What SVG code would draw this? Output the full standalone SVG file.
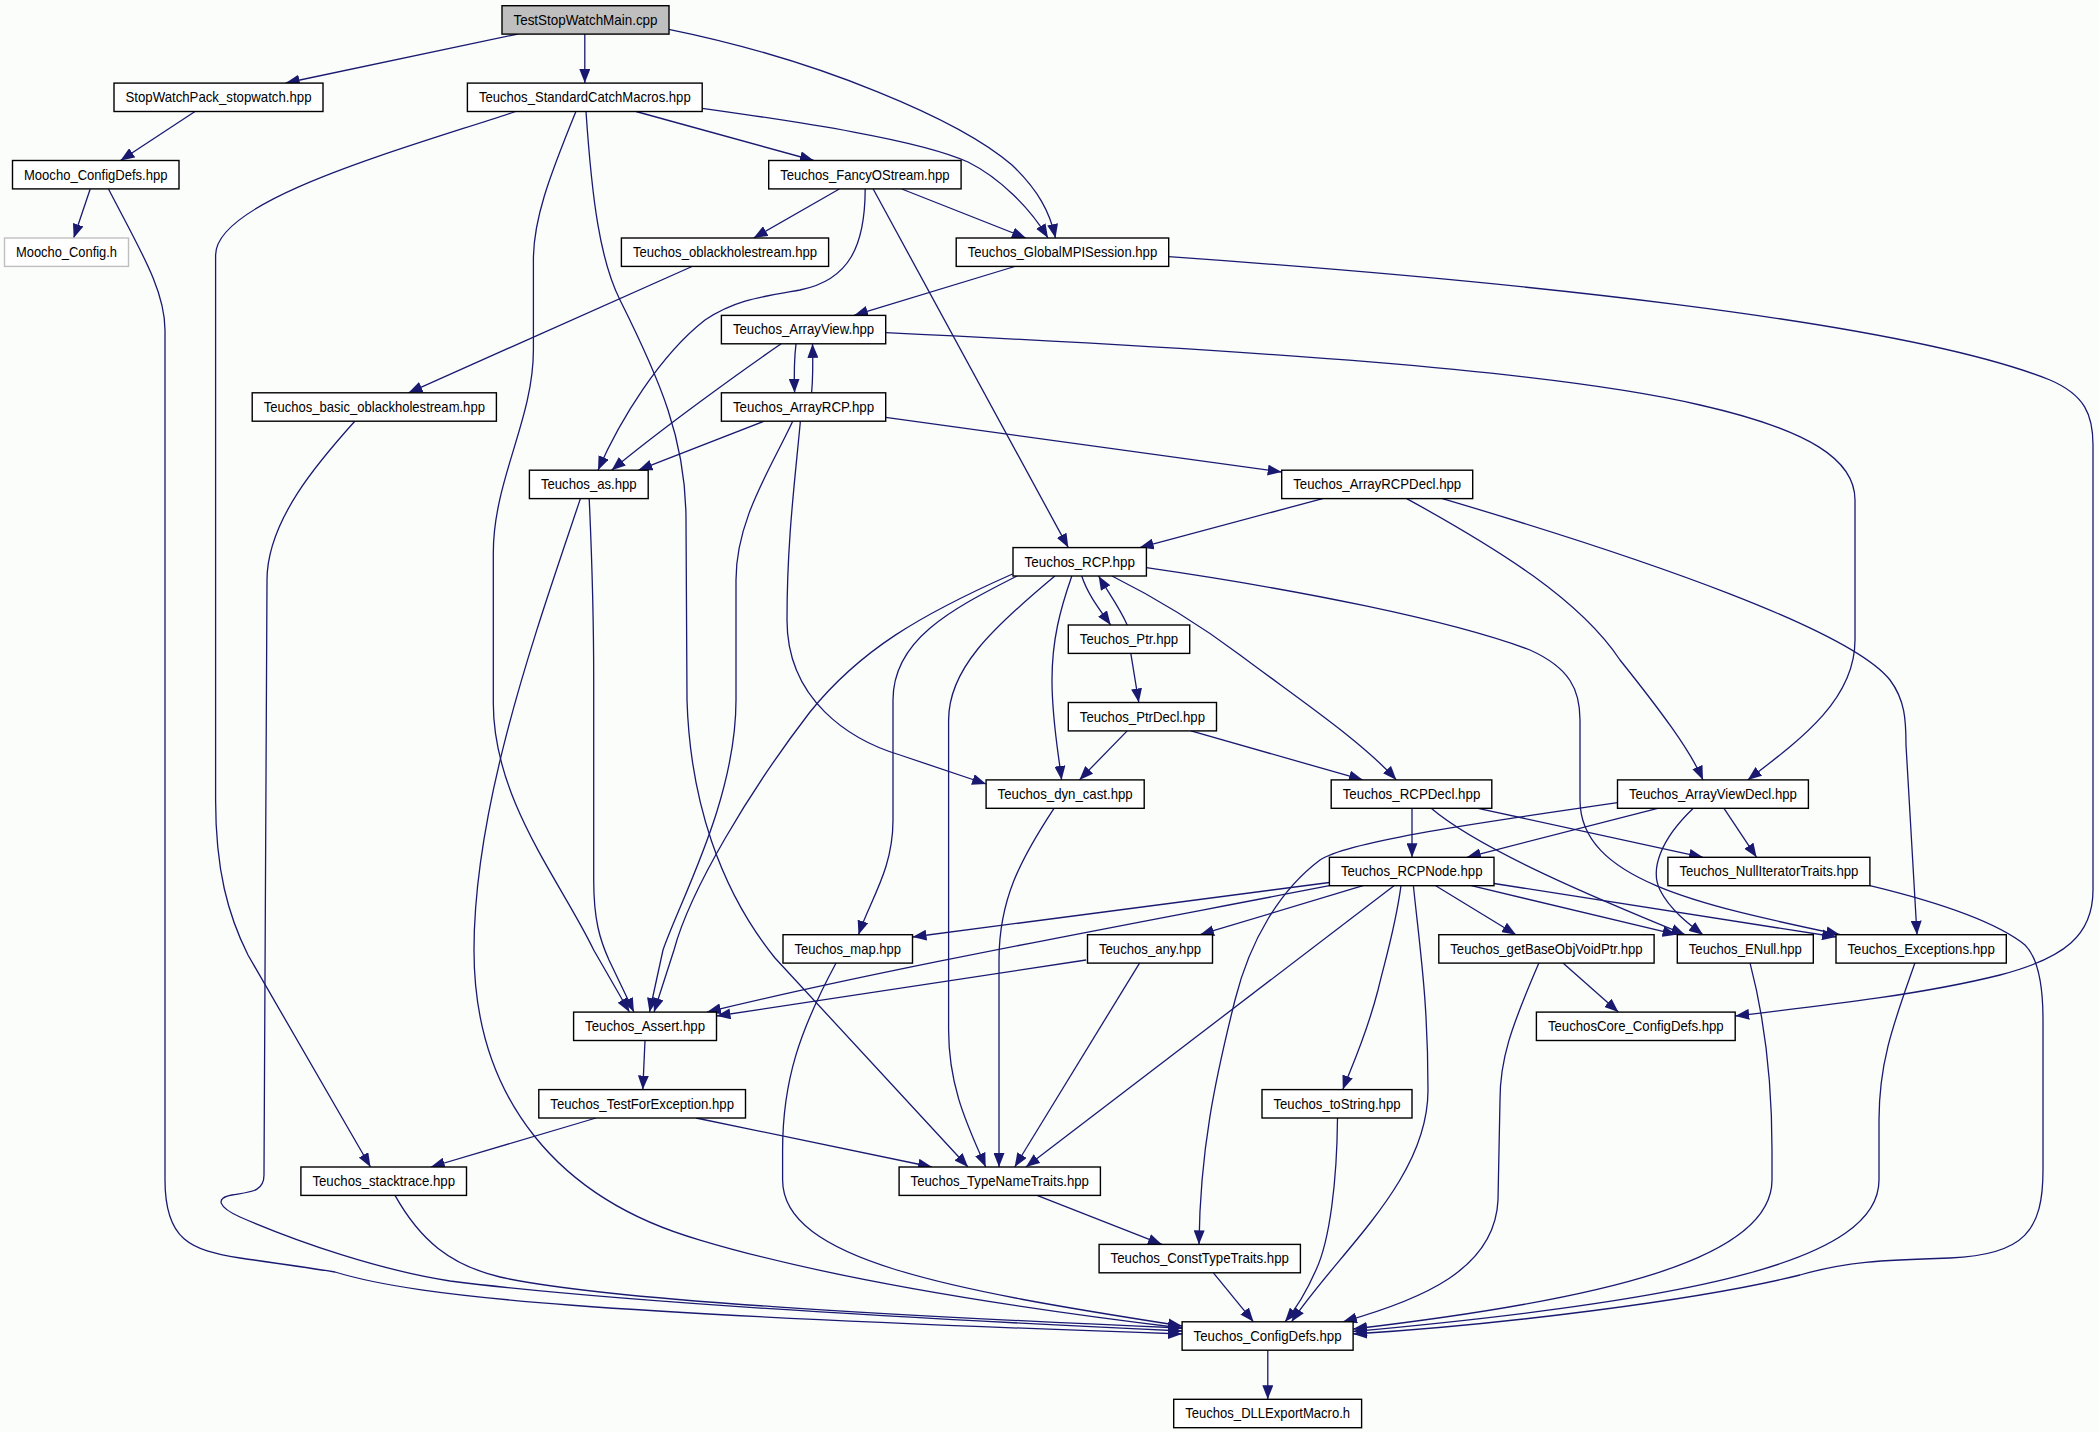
<svg xmlns="http://www.w3.org/2000/svg" width="2099" height="1432" viewBox="0 0 2099 1432">
<defs>
<style>
.n rect{fill:#ffffff;stroke:#000000;stroke-width:1.4}
.n text{font-family:"Liberation Sans",Arial,Helvetica,sans-serif;font-size:15px;fill:#000000;text-anchor:middle}
#edges path{fill:none;stroke:#191970;stroke-width:1.3;marker-end:url(#ah)}
</style>
<marker id="ah" markerUnits="userSpaceOnUse" markerWidth="14" markerHeight="11" refX="14" refY="5.5" orient="auto">
<path d="M0,0 L14,5.5 L0,11 z" fill="#191970"/>
</marker>
</defs>
<rect x="0" y="0" width="2099" height="1432" fill="#fbfdfb"/>
<g id="edges">
<path d="M517.8,34 L285.7,83"/>
<path d="M584.8,34 L584.8,83"/>
<path d="M668.7,29.3 C820,60 960,120 1012,165 C1038,190 1050,212 1055.5,238"/>
<path d="M195,111.5 L120.5,160.5"/>
<path d="M636,111.5 L813.8,160.5"/>
<path d="M702.2,108.3 C800,122 920,140 968,162 C1000,178 1030,208 1048,238"/>
<path d="M515.6,111.5 C400,150 215.6,200 215.6,255 L215.6,800 C215.6,870 228,915 248,955 L370.5,1167"/>
<path d="M575.9,111.5 C548,180 533.4,220 533.4,260 L533.4,350 C533.4,420 493.3,480 493.3,553 L493.3,703 C493.3,800 560,880 593.7,950 L629.4,1012"/>
<path d="M586,111.5 C592,200 600,260 620,300 C660,380 686,440 686,520 L687,700 C690,800 720,890 775,958 L968,1167"/>
<path d="M90.2,189 L73.7,238"/>
<path d="M108.5,189 C140,250 165,290 165,330 L165,1180 C165,1240 190,1250 240,1258 C290,1265 310,1268 335,1272 C420,1298 600,1314 1182.1,1334"/>
<path d="M839.3,189 L753.6,238"/>
<path d="M901.8,189 L1025.9,238"/>
<path d="M865.2,189 C865,245 850,280 800,290 C760,297 735,300 705,320 C660,355 620,420 598,470.2"/>
<path d="M873.2,189 L1068.3,547.6"/>
<path d="M692,266.5 L408.5,392.8"/>
<path d="M1014.7,266.5 L854,315.4"/>
<path d="M1168.7,256.7 C1500,280 1900,320 2050,380 C2085,395 2093,415 2093,445 L2093,890 C2093,935 2065,958 2000,975 C1920,995 1820,1006 1735.2,1016"/>
<path d="M796,343.8 C794,360 794,375 794.6,392.8"/>
<path d="M811.6,392.8 C813,378 813,362 812.5,343.8"/>
<path d="M781.2,343.8 C740,372 660,430 611.6,470.2"/>
<path d="M885.7,332.7 C1250,350 1550,370 1700,405 C1810,430 1855,460 1855,500 L1855,640 C1855,700 1800,740 1747.7,779.9"/>
<path d="M764.7,421 L638.4,470.2"/>
<path d="M792.8,421 C770,470 736,520 736,580 L736,700 C736,800 680,900 663,950 L649.5,1012"/>
<path d="M800.4,421 C795,480 787,540 787,620 C787,700 850,740 900,755 C930,765 960,775 986.1,784"/>
<path d="M885.7,417.3 L1281.7,472"/>
<path d="M589.2,498.6 C592,560 593.7,600 593.7,680 L593.7,880 C593.7,920 600,940 609,960 L633.9,1012"/>
<path d="M580.4,498.6 C540,620 474,800 474,950 C474,1100 560,1200 700,1240 C800,1270 950,1300 1182.1,1328"/>
<path d="M355,421 C320,460 267,520 267,580 L264,1175 C264,1192 250,1192 232,1195 C215,1198 218,1207 240,1217 C300,1243 380,1270 450,1281 C600,1300 900,1318 1182.1,1331"/>
<path d="M1322.7,498.6 L1139.7,547.6"/>
<path d="M1406.7,498.6 C1500,550 1580,600 1620,660 C1660,710 1690,750 1703,779.9"/>
<path d="M1442.4,498.6 C1650,560 1850,630 1890,680 C1905,700 1906,720 1906,745 L1917,934.7"/>
<path d="M1081.7,576 C1088,595 1100,610 1110.7,625"/>
<path d="M1127.2,625 C1120,608 1108,592 1098.6,576"/>
<path d="M1071.8,576 C1060,610 1052,640 1052,680 C1052,720 1058,750 1061.6,779.9"/>
<path d="M1112,576 C1160,600 1200,625 1240,655 C1300,700 1360,740 1396.4,779.9"/>
<path d="M1012.5,574 C920,615 860,650 810,712 C750,790 690,890 674,950 L654,1012"/>
<path d="M1017,576 C950,610 893,640 893,700 L893,820 C893,870 870,900 858.5,934.7"/>
<path d="M1054.9,576 C990,630 948.6,670 948.6,720 L948.6,1030 C948.6,1090 970,1130 985.7,1167"/>
<path d="M1146.4,567.7 C1300,590 1450,620 1530,650 C1570,668 1580,690 1580,720 L1580,800 C1580,880 1700,905 1840,934.7"/>
<path d="M1130.8,653.4 L1138.8,702.5"/>
<path d="M1127.2,730.9 L1079.4,779.9"/>
<path d="M1191,730.9 L1362.9,779.9"/>
<path d="M1054,808.3 C1020,860 999,900 999,960 L999,1167"/>
<path d="M1412,808.3 L1412,857.3"/>
<path d="M1478,808.3 L1703,857.3"/>
<path d="M1431.2,808.3 C1480,850 1600,900 1685,934.7"/>
<path d="M1657.7,808.3 L1466.9,857.3"/>
<path d="M1724,808.3 L1756.6,857.3"/>
<path d="M1693.3,808.3 C1660,840 1650,870 1660,890 C1670,910 1690,925 1703,934.7"/>
<path d="M1617.5,802.7 C1500,820 1350,840 1320,860 C1280,890 1250,940 1235,1000 C1215,1080 1200,1150 1199,1244.4"/>
<path d="M1329.4,882.5 L912.5,937"/>
<path d="M1329.4,885.7 C1100,930 880,970 707,1012.1"/>
<path d="M1363,885.7 L1200,934.7"/>
<path d="M1435.7,885.7 L1516,934.7"/>
<path d="M1471.3,885.7 L1676.5,934.7"/>
<path d="M1494,883.5 L1836,937"/>
<path d="M1394,885.7 L1025.9,1167"/>
<path d="M1401,885.7 C1395,930 1385,960 1378,990 C1365,1040 1350,1070 1342.8,1089.6"/>
<path d="M1413.4,885.7 C1420,950 1428,1000 1428,1090 C1428,1180 1340,1250 1291.5,1321.8"/>
<path d="M1869.9,885.7 C1950,905 2000,925 2025,945 C2040,960 2043,990 2043,1020 L2043,1170 C2043,1230 2025,1255 1950,1258 C1880,1260 1845,1262 1800,1275 C1700,1300 1500,1325 1353.1,1334"/>
<path d="M836.2,962.8 C800,1030 782.6,1080 782.6,1150 L782.6,1180 C782.6,1260 950,1290 1182.1,1326"/>
<path d="M1086.1,960 L716.5,1016"/>
<path d="M1139.7,962.8 L1014.7,1167"/>
<path d="M1562.7,962.8 L1618.4,1012.1"/>
<path d="M1539,962.8 C1510,1030 1500,1060 1500,1100 L1498,1200 C1495,1270 1420,1300 1343,1321.8"/>
<path d="M1750,962.8 C1765,1020 1772,1080 1772,1150 L1772,1180 C1772,1260 1600,1300 1353.1,1329"/>
<path d="M1915,962.8 C1895,1020 1879,1060 1879,1120 L1879,1180 C1879,1260 1700,1300 1353.1,1331.5"/>
<path d="M645,1040.5 L642.8,1089.6"/>
<path d="M596,1118 L430.8,1167"/>
<path d="M696,1118 L932,1167"/>
<path d="M1337.5,1118 C1337,1180 1330,1240 1316,1270 C1305,1295 1295,1310 1285,1321.8"/>
<path d="M395,1195.4 C420,1240 450,1265 500,1277 C600,1300 900,1316 1182.1,1328"/>
<path d="M1037,1195.4 L1162,1244.4"/>
<path d="M1213.4,1272.8 L1253.5,1321.8"/>
<path d="M1267.8,1350.2 L1267.8,1399.3"/>
</g>
<g id="n1" class="n"><rect x="502" y="5.7" width="167" height="28.4" style="fill:#bfbfbf"/><text x="585.5" y="24.7" textLength="144" lengthAdjust="spacingAndGlyphs">TestStopWatchMain.cpp</text></g>
<g id="n2" class="n"><rect x="114" y="83.1" width="209" height="28.4"/><text x="218.5" y="102.1" textLength="186" lengthAdjust="spacingAndGlyphs">StopWatchPack_stopwatch.hpp</text></g>
<g id="n3" class="n"><rect x="467.4" y="83.1" width="234.8" height="28.4"/><text x="584.8" y="102.1" textLength="211.8" lengthAdjust="spacingAndGlyphs">Teuchos_StandardCatchMacros.hpp</text></g>
<g id="n4" class="n"><rect x="12.5" y="160.5" width="166.5" height="28.4"/><text x="95.75" y="179.5" textLength="143.5" lengthAdjust="spacingAndGlyphs">Moocho_ConfigDefs.hpp</text></g>
<g id="n5" class="n"><rect x="4.5" y="238" width="124" height="28.4" style="stroke:#bfbfbf"/><text x="66.5" y="257" textLength="101" lengthAdjust="spacingAndGlyphs">Moocho_Config.h</text></g>
<g id="n6" class="n"><rect x="768.7" y="160.5" width="192.4" height="28.4"/><text x="864.9" y="179.5" textLength="169.4" lengthAdjust="spacingAndGlyphs">Teuchos_FancyOStream.hpp</text></g>
<g id="n7" class="n"><rect x="621.4" y="238" width="207.2" height="28.4"/><text x="725" y="257" textLength="184.2" lengthAdjust="spacingAndGlyphs">Teuchos_oblackholestream.hpp</text></g>
<g id="n8" class="n"><rect x="956.2" y="238" width="212.5" height="28.4"/><text x="1062.45" y="257" textLength="189.5" lengthAdjust="spacingAndGlyphs">Teuchos_GlobalMPISession.hpp</text></g>
<g id="n9" class="n"><rect x="721.4" y="315.4" width="164.3" height="28.4"/><text x="803.55" y="334.4" textLength="141.3" lengthAdjust="spacingAndGlyphs">Teuchos_ArrayView.hpp</text></g>
<g id="n10" class="n"><rect x="252.2" y="392.8" width="244.2" height="28.4"/><text x="374.3" y="411.8" textLength="221.2" lengthAdjust="spacingAndGlyphs">Teuchos_basic_oblackholestream.hpp</text></g>
<g id="n11" class="n"><rect x="721.4" y="392.8" width="164.3" height="28.4"/><text x="803.55" y="411.8" textLength="141.3" lengthAdjust="spacingAndGlyphs">Teuchos_ArrayRCP.hpp</text></g>
<g id="n12" class="n"><rect x="529.4" y="470.2" width="118.8" height="28.4"/><text x="588.8" y="489.2" textLength="95.8" lengthAdjust="spacingAndGlyphs">Teuchos_as.hpp</text></g>
<g id="n13" class="n"><rect x="1281.7" y="470.2" width="191" height="28.4"/><text x="1377.2" y="489.2" textLength="168" lengthAdjust="spacingAndGlyphs">Teuchos_ArrayRCPDecl.hpp</text></g>
<g id="n14" class="n"><rect x="1013" y="547.6" width="133.4" height="28.4"/><text x="1079.7" y="566.6" textLength="110.4" lengthAdjust="spacingAndGlyphs">Teuchos_RCP.hpp</text></g>
<g id="n15" class="n"><rect x="1068.3" y="625" width="121.4" height="28.4"/><text x="1129" y="644" textLength="98.4" lengthAdjust="spacingAndGlyphs">Teuchos_Ptr.hpp</text></g>
<g id="n16" class="n"><rect x="1068.3" y="702.5" width="148.2" height="28.4"/><text x="1142.4" y="721.5" textLength="125.2" lengthAdjust="spacingAndGlyphs">Teuchos_PtrDecl.hpp</text></g>
<g id="n17" class="n"><rect x="986.1" y="779.9" width="158.1" height="28.4"/><text x="1065.15" y="798.9" textLength="135.1" lengthAdjust="spacingAndGlyphs">Teuchos_dyn_cast.hpp</text></g>
<g id="n18" class="n"><rect x="1331.2" y="779.9" width="160.6" height="28.4"/><text x="1411.5" y="798.9" textLength="137.6" lengthAdjust="spacingAndGlyphs">Teuchos_RCPDecl.hpp</text></g>
<g id="n19" class="n"><rect x="1617.5" y="779.9" width="190.9" height="28.4"/><text x="1712.95" y="798.9" textLength="167.9" lengthAdjust="spacingAndGlyphs">Teuchos_ArrayViewDecl.hpp</text></g>
<g id="n20" class="n"><rect x="1329.4" y="857.3" width="164.6" height="28.4"/><text x="1411.7" y="876.3" textLength="141.6" lengthAdjust="spacingAndGlyphs">Teuchos_RCPNode.hpp</text></g>
<g id="n21" class="n"><rect x="1667.9" y="857.3" width="202" height="28.4"/><text x="1768.9" y="876.3" textLength="179" lengthAdjust="spacingAndGlyphs">Teuchos_NullIteratorTraits.hpp</text></g>
<g id="n22" class="n"><rect x="783" y="934.7" width="129.5" height="28.4"/><text x="847.75" y="953.7" textLength="106.5" lengthAdjust="spacingAndGlyphs">Teuchos_map.hpp</text></g>
<g id="n23" class="n"><rect x="1087.5" y="934.7" width="125" height="28.4"/><text x="1150" y="953.7" textLength="102" lengthAdjust="spacingAndGlyphs">Teuchos_any.hpp</text></g>
<g id="n24" class="n"><rect x="1438.8" y="934.7" width="215.3" height="28.4"/><text x="1546.45" y="953.7" textLength="192.3" lengthAdjust="spacingAndGlyphs">Teuchos_getBaseObjVoidPtr.hpp</text></g>
<g id="n25" class="n"><rect x="1677.3" y="934.7" width="136" height="28.4"/><text x="1745.3" y="953.7" textLength="113" lengthAdjust="spacingAndGlyphs">Teuchos_ENull.hpp</text></g>
<g id="n26" class="n"><rect x="1836" y="934.7" width="170.3" height="28.4"/><text x="1921.15" y="953.7" textLength="147.3" lengthAdjust="spacingAndGlyphs">Teuchos_Exceptions.hpp</text></g>
<g id="n27" class="n"><rect x="573.6" y="1012.1" width="142.9" height="28.4"/><text x="645.05" y="1031.1" textLength="119.9" lengthAdjust="spacingAndGlyphs">Teuchos_Assert.hpp</text></g>
<g id="n28" class="n"><rect x="1536.4" y="1012.1" width="198.8" height="28.4"/><text x="1635.8" y="1031.1" textLength="175.8" lengthAdjust="spacingAndGlyphs">TeuchosCore_ConfigDefs.hpp</text></g>
<g id="n29" class="n"><rect x="538.8" y="1089.6" width="206.7" height="28.4"/><text x="642.15" y="1108.6" textLength="183.7" lengthAdjust="spacingAndGlyphs">Teuchos_TestForException.hpp</text></g>
<g id="n30" class="n"><rect x="1262" y="1089.6" width="150" height="28.4"/><text x="1337" y="1108.6" textLength="127" lengthAdjust="spacingAndGlyphs">Teuchos_toString.hpp</text></g>
<g id="n31" class="n"><rect x="300.9" y="1167" width="165.6" height="28.4"/><text x="383.7" y="1186" textLength="142.6" lengthAdjust="spacingAndGlyphs">Teuchos_stacktrace.hpp</text></g>
<g id="n32" class="n"><rect x="899.1" y="1167" width="201.3" height="28.4"/><text x="999.75" y="1186" textLength="178.3" lengthAdjust="spacingAndGlyphs">Teuchos_TypeNameTraits.hpp</text></g>
<g id="n33" class="n"><rect x="1099.1" y="1244.4" width="201.3" height="28.4"/><text x="1199.75" y="1263.4" textLength="178.3" lengthAdjust="spacingAndGlyphs">Teuchos_ConstTypeTraits.hpp</text></g>
<g id="n34" class="n"><rect x="1182.1" y="1321.8" width="171" height="28.4"/><text x="1267.6" y="1340.8" textLength="148" lengthAdjust="spacingAndGlyphs">Teuchos_ConfigDefs.hpp</text></g>
<g id="n35" class="n"><rect x="1173.7" y="1399.3" width="187.9" height="28.4"/><text x="1267.65" y="1418.3" textLength="164.9" lengthAdjust="spacingAndGlyphs">Teuchos_DLLExportMacro.h</text></g>
</svg>
